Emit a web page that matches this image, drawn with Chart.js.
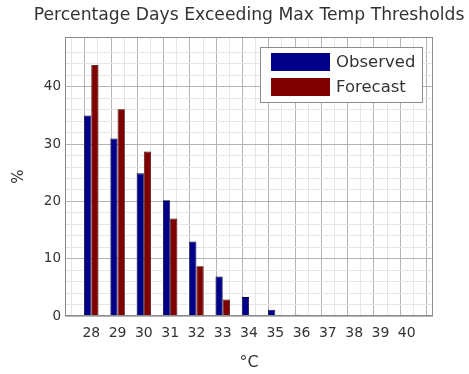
<!DOCTYPE html>
<html>
<head>
<meta charset="utf-8">
<script src="https://cdn.jsdelivr.net/npm/chart.js@4/dist/chart.umd.min.js"></script>
<style>
  html, body { margin: 0; padding: 0; background: #ffffff; }
  #wrap { width: 469px; height: 374px; }
</style>
</head>
<body>
<div id="wrap"><canvas id="c" width="469" height="374"></canvas></div>
<script>
const categories = [28, 29, 30, 31, 32, 33, 34, 35, 36, 37, 38, 39, 40];
const observed = [35.0, 31.0, 24.9, 20.2, 13.0, 6.9, 3.3, 1.1, 0.2, 0, 0, 0, 0];
const forecast = [43.8, 36.1, 28.7, 17.0, 8.7, 2.9, 0, 0, 0, 0, 0, 0, 0];
const yTickLabels = [0, 10, 20, 30, 40];
const seriesNames = ['Observed', 'Forecast'];
const chartTitle = 'Percentage Days Exceeding Max Temp Thresholds';
const xTitle = '\u00B0C';
const yTitle = '%';

const FONT = 'DejaVu Sans';
const TXT = '#333333';
const MAJOR = '#b4b4b4';
const MINOR = '#e6e6e6';

const toPoints = vals => categories.map((c, i) => ({ x: c, y: vals[i] }));

const titlePlugin = {
  id: 'plotTitle',
  afterDraw(chart) {
    const { ctx, chartArea: a } = chart;
    ctx.save();
    ctx.fillStyle = TXT;
    ctx.font = '17.2px "' + FONT + '"';
    ctx.textAlign = 'center';
    ctx.textBaseline = 'middle';
    ctx.fillText(chartTitle, (a.left + a.right) / 2, 15.5);
    ctx.restore();
  }
};

const boxPlugin = {
  id: 'box',
  afterDraw(chart) {
    const { ctx, chartArea: a } = chart;
    ctx.save();
    ctx.strokeStyle = '#8c8c8c';
    ctx.lineWidth = 1;
    ctx.strokeRect(Math.round(a.left) + 0.5, Math.round(a.top) + 0.5,
                   Math.round(a.right - a.left) - 1, Math.round(a.bottom - a.top) - 1);
    ctx.restore();
  }
};

const legendPlugin = {
  id: 'innerLegend',
  afterDraw(chart) {
    const { ctx, chartArea: a } = chart;
    const w = 162, h = 55;
    const x0 = a.right - 11 - w, y0 = a.top + 10;
    ctx.save();
    ctx.fillStyle = '#ffffff';
    ctx.fillRect(x0, y0, w, h);
    ctx.strokeStyle = '#8c8c8c';
    ctx.lineWidth = 1;
    ctx.strokeRect(Math.round(x0) + 0.5, Math.round(y0) + 0.5, w, h);
    chart.data.datasets.forEach((ds, i) => {
      const sy = y0 + 6 + i * 25;
      ctx.fillStyle = ds.backgroundColor;
      ctx.fillRect(x0 + 11, sy, 59, 18);
      ctx.fillStyle = TXT;
      ctx.font = '16.5px "' + FONT + '"';
      ctx.textBaseline = 'middle';
      ctx.textAlign = 'left';
      ctx.fillText(ds.label, x0 + 76, sy + 9.5);
    });
    ctx.restore();
  }
};

new Chart(document.getElementById('c'), {
  type: 'bar',
  data: {
    datasets: [
      { label: seriesNames[0], data: toPoints(observed), backgroundColor: '#000088', borderColor: '#000033', borderWidth: 0.8 },
      { label: seriesNames[1], data: toPoints(forecast), backgroundColor: '#800000', borderColor: '#330000', borderWidth: 0.8 }
    ]
  },
  options: {
    responsive: false,
    animation: false,
    devicePixelRatio: 1,
    layout: { padding: { left: 0, right: 36, top: 37, bottom: 0 } },
    datasets: { bar: { categoryPercentage: 1.1, barPercentage: 1.0, grouped: true } },
    plugins: {
      legend: { display: false },
      tooltip: { enabled: false },
      title: { display: false }
    },
    scales: {
      x: {
        type: 'linear',
        min: 27,
        max: 41,
        offset: false,
        afterFit(s) { s.height = 58; },
        ticks: {
          stepSize: 0.5,
          autoSkip: false,
          maxRotation: 0,
          padding: 9,
          color: TXT,
          font: { family: FONT, size: 14 },
          callback: v => (Number.isInteger(v) && categories.includes(v)) ? String(v) : ''
        },
        grid: {
          drawTicks: false,
          color: c => (c.tick && !Number.isInteger(c.tick.value)) ? MINOR : MAJOR,
          lineWidth: 1
        },
        border: { display: false },
        title: {
          display: true,
          text: xTitle,
          color: TXT,
          font: { family: FONT, size: 16 },
          padding: { top: 0, bottom: 2 }
        }
      },
      y: {
        min: 0,
        max: 48.7,
        afterFit(s) { s.width = 65; },
        ticks: {
          stepSize: 2,
          autoSkip: false,
          padding: 4,
          color: TXT,
          font: { family: FONT, size: 13.5 },
          callback: v => yTickLabels.includes(v) ? String(v) : ''
        },
        grid: {
          drawTicks: false,
          color: c => (c.tick && c.tick.value % 10 !== 0) ? MINOR : MAJOR,
          lineWidth: 1
        },
        border: { display: false },
        title: {
          display: true,
          text: yTitle,
          color: TXT,
          font: { family: FONT, size: 15 },
          padding: { top: 10, bottom: 0 }
        }
      }
    }
  },
  plugins: [titlePlugin, boxPlugin, legendPlugin]
});
</script>
</body>
</html>
